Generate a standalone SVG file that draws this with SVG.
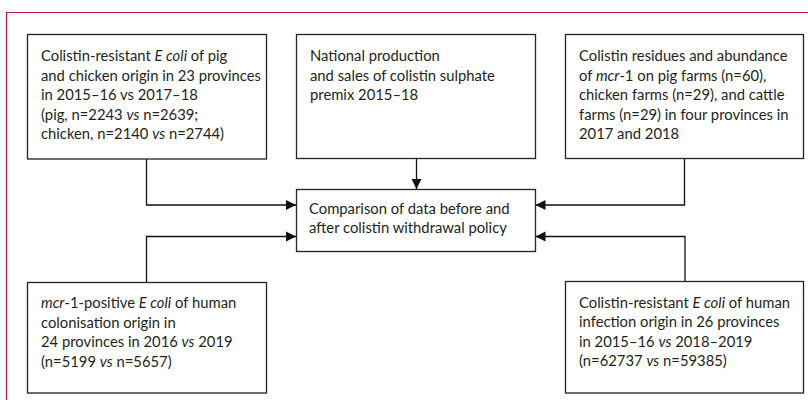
<svg xmlns="http://www.w3.org/2000/svg" width="808" height="400" viewBox="0 0 808 400">
<defs>
<style>
.frame{stroke:#c4173f;stroke-width:1.2;fill:none}
.box{fill:#fff;stroke:#222;stroke-width:1.3}
.t{font-family:Lato,"Liberation Sans",sans-serif;font-size:14.8px;fill:#231f20}
.i{font-style:italic}
.c{stroke:#111;stroke-width:1.3;fill:none}
</style>
<marker id="ah" markerUnits="userSpaceOnUse" markerWidth="11" markerHeight="11" refX="10" refY="5.5" orient="auto">
<path d="M0,0.5 L10,5.5 L0,10.5 Z" fill="#111"/>
</marker>
</defs>
<rect width="808" height="400" fill="#fff"/>
<path class="frame" d="M6.5,400 V12.5 H808"/>
<g id="connectors">
<path class="c" d="M146.5,159 V205 H296" marker-end="url(#ah)"/>
<path class="c" d="M416.5,158 V189" marker-end="url(#ah)"/>
<path class="c" d="M684.5,158 V205 H535.5" marker-end="url(#ah)"/>
<path class="c" d="M146.5,282 V236.5 H296" marker-end="url(#ah)"/>
<path class="c" d="M685,281 V236.5 H535.5" marker-end="url(#ah)"/>
</g>
<g id="n1">
<rect class="box" x="27.5" y="34.5" width="239" height="124.5"/>
<text class="t" x="41" y="61">Colistin-resistant <tspan class="i">E coli</tspan> of pig</text>
<text class="t" x="41" y="80.5">and chicken origin in 23 provinces</text>
<text class="t" x="41" y="100">in 2015–16 vs 2017–18</text>
<text class="t" x="41" y="119.5">(pig, n=2243 <tspan class="i">vs</tspan> n=2639;</text>
<text class="t" x="41" y="139">chicken, n=2140 <tspan class="i">vs</tspan> n=2744)</text>
</g>
<g id="n2">
<rect class="box" x="296.5" y="34.5" width="239" height="124"/>
<text class="t" x="310" y="61">National production</text>
<text class="t" x="310" y="80.5">and sales of colistin sulphate</text>
<text class="t" x="310" y="100">premix 2015–18</text>
</g>
<g id="n3">
<rect class="box" x="565.5" y="34.5" width="238" height="124"/>
<text class="t" x="579" y="61">Colistin residues and abundance</text>
<text class="t" x="579" y="80.5">of <tspan class="i">mcr</tspan>-1 on pig farms (n=60),</text>
<text class="t" x="579" y="100">chicken farms (n=29), and cattle</text>
<text class="t" x="579" y="119.5">farms (n=29) in four provinces in</text>
<text class="t" x="579" y="139">2017 and 2018</text>
</g>
<g id="center">
<rect class="box" x="296.5" y="189.5" width="239" height="62"/>
<text class="t" x="309" y="213.5">Comparison of data before and</text>
<text class="t" x="309" y="233">after colistin withdrawal policy</text>
</g>
<g id="n4">
<rect class="box" x="27.5" y="282.5" width="239" height="110.5"/>
<text class="t" x="41" y="308"><tspan class="i">mcr</tspan>-1-positive <tspan class="i">E coli</tspan> of human</text>
<text class="t" x="41" y="327.5">colonisation origin in</text>
<text class="t" x="41" y="347">24 provinces in 2016 <tspan class="i">vs</tspan> 2019</text>
<text class="t" x="41" y="366.5">(n=5199 <tspan class="i">vs</tspan> n=5657)</text>
</g>
<g id="n5">
<rect class="box" x="565.5" y="281.5" width="238" height="111.5"/>
<text class="t" x="579" y="307.5">Colistin-resistant <tspan class="i">E coli</tspan> of human</text>
<text class="t" x="579" y="327">infection origin in 26 provinces</text>
<text class="t" x="579" y="346.5">in 2015–16 <tspan class="i">vs</tspan> 2018–2019</text>
<text class="t" x="579" y="366">(n=62737 <tspan class="i">vs</tspan> n=59385)</text>
</g>
</svg>
